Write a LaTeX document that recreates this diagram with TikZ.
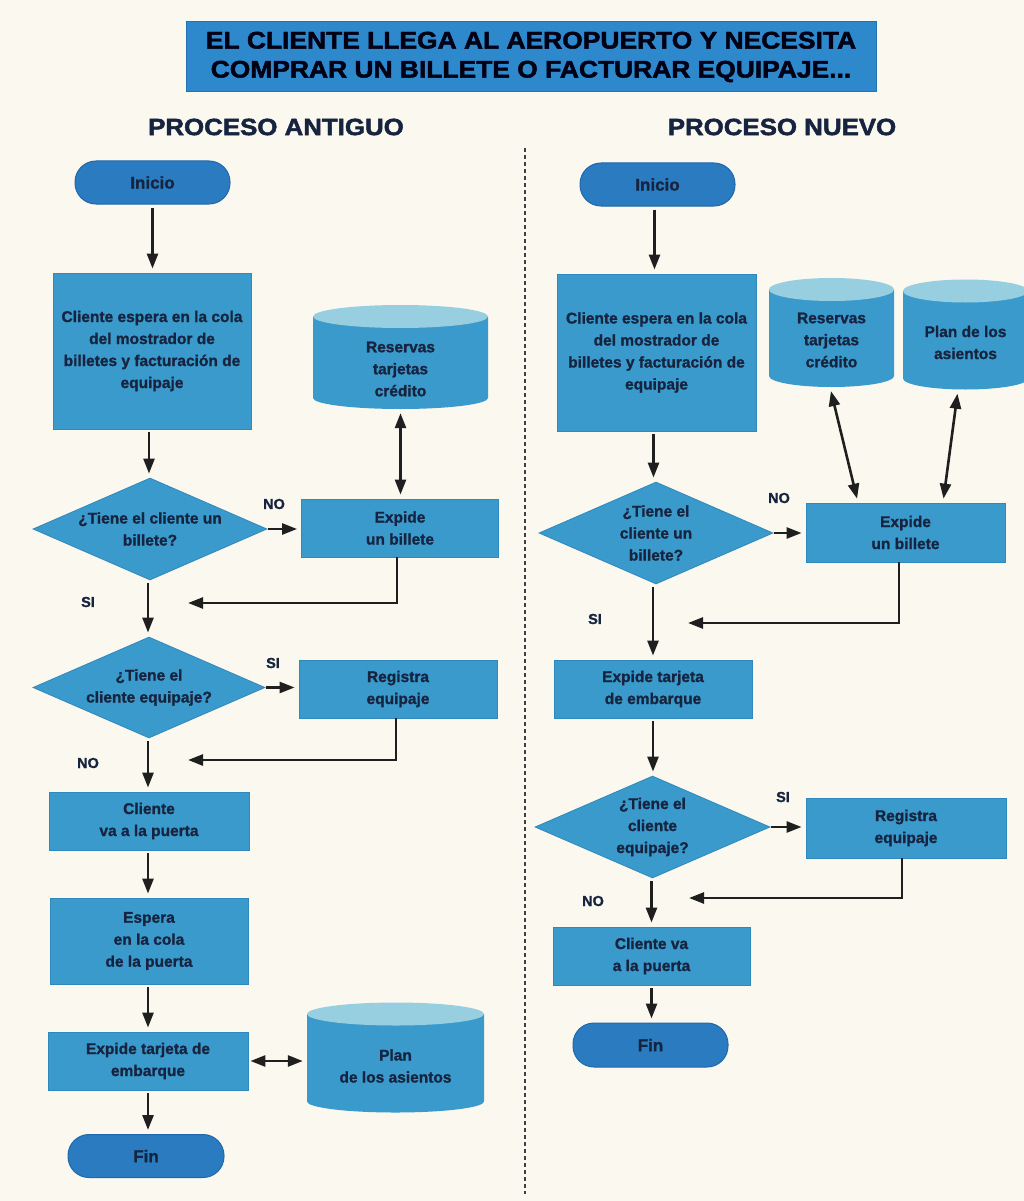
\documentclass[tikz,border=0pt]{standalone}
\usepackage{fontspec}
\setmainfont{Liberation Sans}
\newfontfamily\headfont[FakeStretch=1.1,FakeBold=2]{Liberation Sans Bold}
\newfontfamily\boxface[FakeBold=1.2]{Liberation Sans Bold}
\usetikzlibrary{arrows.meta,shapes.geometric,calc}

\definecolor{pagebg}{HTML}{FBF8EF}
\definecolor{boxblue}{HTML}{3A9ACC}
\definecolor{boxedge}{HTML}{3088BC}
\definecolor{termblue}{HTML}{2A7BC0}
\definecolor{termedge}{HTML}{2168AA}
\definecolor{titleblue}{HTML}{2E88CC}
\definecolor{titleedge}{HTML}{2472B0}
\definecolor{captop}{HTML}{97CEE0}
\definecolor{ink}{HTML}{16243F}

\tikzset{
  x=1pt, y=1pt,
  boxfont/.style={font=\boxface\fontsize{15.5}{22}\selectfont},
  sized/.style 2 args={minimum width=#1, minimum height=#2},
  proc/.style={rectangle, fill=boxblue, draw=boxedge, line width=0.8pt,
    inner sep=0pt, align=center, text=ink, boxfont},
  term/.style={rectangle, rounded corners=21pt, fill=termblue, draw=termedge,
    line width=1pt, inner sep=0pt, text=ink,
    font=\boxface\fontsize{17}{20}\selectfont},
  dec/.style={diamond, fill=boxblue, draw=boxedge, line width=0.8pt, inner sep=0pt},
  dtxt/.style={align=center, text=ink, inner sep=0pt, boxfont},
  dbase/.style={rectangle, inner sep=0pt,
    path picture={
      \fill[boxblue] let \p1=(path picture bounding box.north west),
        \p2=(path picture bounding box.south east),
        \n1={(\x2-\x1)/2} in
        (\x1,\y1-11.5pt) -- (\x1,\y2+11pt)
        arc[start angle=180, end angle=360, x radius=\n1, y radius=11pt]
        -- (\x2,\y1-11.5pt) -- cycle;
      \fill[captop] let \p1=(path picture bounding box.north west),
        \p2=(path picture bounding box.south east),
        \n1={(\x2-\x1)/2} in
        ({(\x1+\x2)/2},\y1-11.5pt) ellipse[x radius=\n1, y radius=11.5pt];
    }},
  lbl/.style={text=ink, font=\boxface\fontsize{14.5}{16}\selectfont, inner sep=0pt},
  head/.style={text=ink, font=\headfont\fontsize{23.5}{26}\selectfont, inner sep=0pt},
  title/.style={rectangle, fill=titleblue, draw=titleedge, line width=1pt,
    align=center, inner sep=0pt, text=black!92!blue,
    font=\headfont\fontsize{24}{29}\selectfont},
  tip/.style={Triangle[length=15pt,width=11pt]},
  arr/.style={-{Triangle[length=15pt,width=11pt]}, line width=2.6pt,
    draw=black!88, shorten >=4pt, shorten <=3pt},
  darr/.style={{Triangle[length=15pt,width=11pt]}-{Triangle[length=15pt,width=11pt]},
    line width=2.6pt, draw=black!88, shorten >=4pt, shorten <=4pt},
  rarr/.style={-{Triangle[length=15pt,width=11pt]}, line width=2.6pt,
    draw=black!88},
  sep/.style={draw=black!75, line width=1.6pt, dash pattern=on 4pt off 3pt},
}

\begin{document}
\begin{tikzpicture}
\fill[pagebg] (0,0) rectangle (1024,-1201);
\useasboundingbox (0,0) rectangle (1024,-1201);

% heading
\node[title, sized={690}{70}] (ttl) at (531,-57)
  {EL CLIENTE LLEGA AL AEROPUERTO Y NECESITA\\COMPRAR UN BILLETE O FACTURAR EQUIPAJE...};
\node[head] (h1) at (276,-127) {PROCESO ANTIGUO};
\node[head] (h2) at (782,-127) {PROCESO NUEVO};

% divider between both processes
\coordinate (sepTop) at (525,-148);
\coordinate (sepBot) at (525,-1194);
\draw[sep] (sepTop) -- (sepBot);

% ---------------- old process ----------------
\node[term, sized={155}{43}] (s1) at (152.5,-182.5) {Inicio};
\node[proc, sized={198}{156}] (b1) at (152,-351)
  {Cliente espera en la cola\\del mostrador de\\billetes y facturación de\\equipaje};
\node[dbase, sized={175}{104}, label={[dtxt,yshift=-12pt]center:{Reservas\\tarjetas\\crédito}}]
  (c1) at (400.5,-357) {};
\node[dec, sized={234}{102}, label={[dtxt]center:{¿Tiene el cliente un\\billete?}}]
  (d1) at (150,-529) {};
\node[proc, sized={197}{58}] (e1) at (400,-528) {Expide\\un billete};
\coordinate (j1) at (188,-603);
\node[dec, sized={232}{101}, label={[dtxt]center:{¿Tiene el\\cliente equipaje?}}]
  (d2) at (149,-687.5) {};
\node[proc, sized={198}{58}] (r1) at (398,-689) {Registra\\equipaje};
\coordinate (j2) at (188,-760);
\node[proc, sized={200}{58}] (g1) at (149,-821) {Cliente\\va a la puerta};
\node[proc, sized={198}{86}] (q1) at (149,-941) {Espera\\en la cola\\de la puerta};
\node[proc, sized={200}{58}] (t1) at (148,-1061) {Expide tarjeta de\\embarque};
\node[dbase, sized={177}{110}, label={[dtxt,yshift=-8.5pt]center:{Plan\\de los asientos}}]
  (c2) at (395.5,-1057.5) {};
\node[term, sized={156}{43}] (f1) at (146,-1156) {Fin};

\node[lbl] (n1) at (274,-504) {NO};
\node[lbl] (y1) at (88,-602) {SI};
\node[lbl] (y2) at (273,-663) {SI};
\node[lbl] (n2) at (88,-763) {NO};

\draw[arr] (s1.south) -- (s1.south |- b1.north);
\draw[arr] ([xshift=-3pt]b1.south) -- ([xshift=-3pt]b1.south |- d1.north);
\draw[darr] (c1.south) -- (c1.south |- e1.north);
\draw[arr, shorten <=1pt] (d1.east) -- (d1.east -| e1.west);
\draw[rarr] ([xshift=-3pt]e1.south) |- (j1);
\draw[arr] ([xshift=-2pt]d1.south) -- ([xshift=-2pt]d1.south |- d2.north);
\draw[arr, shorten <=1pt] (d2.east) -- (d2.east -| r1.west);
\draw[rarr] ([xshift=-2pt]r1.south) |- (j2);
\draw[arr] ([xshift=-1pt]d2.south) -- ([xshift=-1pt]d2.south |- g1.north);
\draw[arr] ([xshift=-1pt]g1.south) -- ([xshift=-1pt]g1.south |- q1.north);
\draw[arr] ([xshift=-1pt]q1.south) -- ([xshift=-1pt]q1.south |- t1.north);
\draw[darr, shorten <=2pt] (t1.east) -- (t1.east -| c2.west);
\draw[arr] (t1.south) -- (t1.south |- f1.north);

% ---------------- new process ----------------
\node[term, sized={155}{43}] (s2) at (657.5,-184.5) {Inicio};
\node[proc, sized={199}{157}] (b2) at (656.5,-352.5)
  {Cliente espera en la cola\\del mostrador de\\billetes y facturación de\\equipaje};
\node[dbase, sized={125}{109}, label={[dtxt,yshift=-7.5pt]center:{Reservas\\tarjetas\\crédito}}]
  (c3) at (831.5,-332.5) {};
\node[dbase, sized={125}{110}, label={[dtxt,yshift=-8pt]center:{Plan de los\\asientos}}]
  (c4) at (965.5,-334.5) {};
\node[dec, sized={234}{102}, label={[dtxt]center:{¿Tiene el\\cliente un\\billete?}}]
  (d3) at (656,-533) {};
\node[proc, sized={199}{59}] (e2) at (905.5,-532.5) {Expide\\un billete};
\coordinate (j3) at (688,-623);
\node[proc, sized={198}{58}] (t2) at (653,-689) {Expide tarjeta\\de embarque};
\node[dec, sized={235}{102}, label={[dtxt]center:{¿Tiene el\\cliente\\equipaje?}}]
  (d4) at (652.5,-827) {};
\node[proc, sized={200}{60}] (r2) at (906,-828) {Registra\\equipaje};
\coordinate (j4) at (689,-898);
\node[proc, sized={197}{58}] (g2) at (651.5,-956) {Cliente va\\a la puerta};
\node[term, sized={155}{44}] (f2) at (650.5,-1045) {Fin};

\node[lbl] (n3) at (779,-498) {NO};
\node[lbl] (y3) at (595,-619) {SI};
\node[lbl] (y4) at (783,-797) {SI};
\node[lbl] (n4) at (593,-901) {NO};

\draw[arr] ([xshift=-3pt]s2.south) -- ([xshift=-3pt]s2.south |- b2.north);
\draw[arr] ([xshift=-3pt]b2.south) -- ([xshift=-3pt]b2.south |- d3.north);
\draw[darr] ([xshift=-1.5pt]c3.south) -- ([xshift=-47.5pt]e2.north);
\draw[darr] ([xshift=-7.5pt]c4.south) -- ([xshift=37.5pt]e2.north);
\draw[arr, shorten <=1pt] (d3.east) -- (d3.east -| e2.west);
\draw[rarr] ([xshift=-6.5pt]e2.south) |- (j3);
\draw[arr] ([xshift=-3pt]d3.south) -- ([xshift=-3pt]d3.south |- t2.north);
\draw[arr] (t2.south) -- (t2.south |- d4.north);
\draw[arr, shorten <=1pt] (d4.east) -- (d4.east -| r2.west);
\draw[rarr] ([xshift=-4pt]r2.south) |- (j4);
\draw[arr] ([xshift=-1pt]d4.south) -- ([xshift=-1pt]d4.south |- g2.north);
\draw[arr] (g2.south) -- (g2.south |- f2.north);
\end{tikzpicture}
\end{document}
